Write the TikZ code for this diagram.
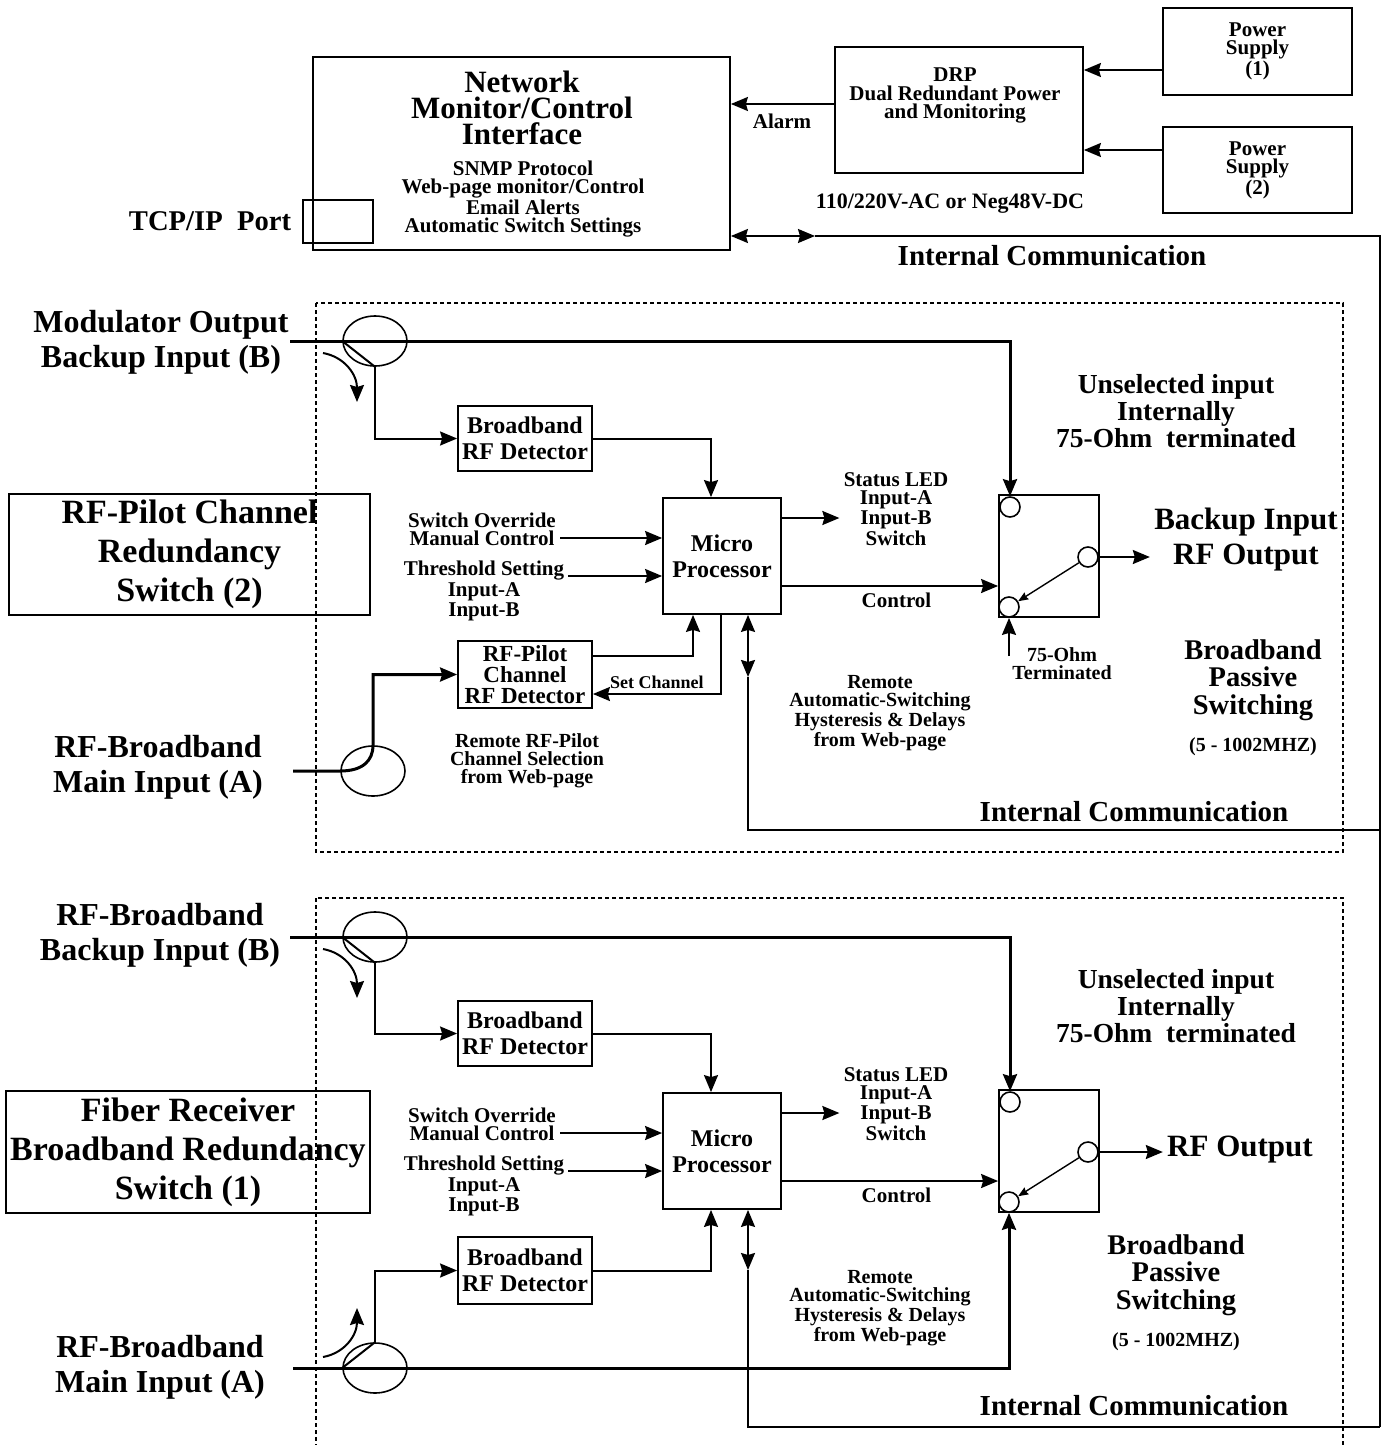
\documentclass[tikz,border=0pt]{standalone}
\usepackage{fontspec}
\setmainfont{Liberation Serif}
\usepackage{tikz}
\usetikzlibrary{calc,arrows.meta,shapes.geometric,positioning}

\begin{document}
\begin{tikzpicture}[x=0.5pt,y=-0.5pt,
	>={Stealth[length=8.5pt,width=7pt,inset=1pt]},
	every node/.style={align=center,inner sep=2pt},
	blk/.style={draw,line width=0.9pt},
	lbl/.style={font=\bfseries\fontsize{10.5}{9}\selectfont},
	lbls/.style={font=\bfseries\fontsize{10}{9}\selectfont},
	boxtxt/.style={font=\bfseries\fontsize{12}{13}\selectfont},
	pilottxt/.style={font=\bfseries\fontsize{11.5}{10.5}\selectfont},
	inlbl/.style={font=\bfseries\fontsize{16}{17.5}\selectfont},
	lboxtxt/.style={font=\bfseries\fontsize{17}{19.5}\selectfont},
	midtxt/.style={font=\bfseries\fontsize{13.75}{13.5}\selectfont},
	commtxt/.style={font=\bfseries\fontsize{14.5}{14}\selectfont},
	sig/.style={line width=1pt},
	rf/.style={line width=1.5pt},
	dotbox/.style={line width=0.6pt,dash pattern=on 2pt off 1.5pt},
	cpl/.style={ellipse,draw,line width=0.8pt,minimum width=32pt,minimum height=25pt,inner sep=0pt},
	contact/.style={circle,draw,line width=0.8pt,minimum size=10pt,inner sep=0pt},
	arm/.style={line width=0.7pt,-{Stealth[length=5pt,width=4pt,inset=0.5pt]}}]
	
	\useasboundingbox (0,0) rectangle (1382,1445);
	\clip (0,0) rectangle (1382,1445);
	
	% network monitor and power supplies
	\node[blk,minimum width=208.5pt,minimum height=96.5pt] (net) at (521.5,153.5) {};
	\node[font=\bfseries\fontsize{15.5}{13}\selectfont] (nettitle) at (522,108) {Network\\Monitor/Control\\Interface};
	\node[lbl] (netlist) at (523,199) {SNMP Protocol\\Web-page monitor/Control\\Email Alerts\\Automatic Switch Settings};
	\node[blk,minimum width=35pt,minimum height=21.5pt] (port) at (338,221.5) {};
	\node[font=\bfseries\fontsize{14.3}{14}\selectfont] (portlbl) at (210,221) {TCP/IP\ \ Port};
	
	\node[blk,minimum width=124pt,minimum height=63pt] (drp) at (959,110) {};
	\node[font=\bfseries\fontsize{10.5}{9.25}\selectfont] (drptxt) at (955,95.5) {DRP\\Dual Redundant Power\\and Monitoring};
	\node[blk,lbl,minimum width=94.5pt,minimum height=43.5pt] (ps1) at (1257.5,51.5) {Power\\Supply\\(1)};
	\node[blk,lbl,minimum width=94.5pt,minimum height=43pt] (ps2) at (1257.5,170) {Power\\Supply\\(2)};
	\draw[sig,->] (ps1.west |- 0,70) -- (drp.east |- 0,70);
	\draw[sig,->] (ps2.west |- 0,150) -- (drp.east |- 0,150);
	\draw[sig,->] (drp.west |- 0,104) -- (net.east |- 0,104);
	\node[lbl] (alarm) at (782,121) {Alarm};
	\node[font=\bfseries\fontsize{11}{10}\selectfont] (volt) at (950,204) {110/220V-AC or Neg48V-DC};
	
	\coordinate (busTap) at (815,236);
	\coordinate (busTop) at (1380,236);
	\coordinate (busEnd) at (1380,1427);
	\draw[sig,<->] (net.east |- busTap) -- (busTap);
	\draw[sig] (busTap) -- (busTop) -- (busEnd);
	\node[commtxt] (comm0) at (1052,256) {Internal Communication};
	
	% switch (2)
	\draw[dotbox] (316,303) rectangle (1343,852);
	\node[inlbl] (labB2) at (161,342) {Modulator Output\\Backup Input (B)};
	\node[inlbl] (labA2) at (158,767) {RF-Broadband\\Main Input (A)};
	\node[blk,lboxtxt,minimum width=180.5pt,minimum height=60.5pt] (sw2lbl) at (189.5,554.5) {RF-Pilot Channel\\Redundancy\\Switch (2)};
	
	\node[cpl] (cplB2) at (375,341) {};
	\node[cpl] (cplA2) at (373,771) {};
	\coordinate (inB2) at (290,341);
	\coordinate (inA2) at (293,771);
	
	\node[blk,boxtxt,minimum width=67pt,minimum height=32.5pt] (detB2) at (525,438.5) {Broadband\\RF Detector};
	\node[blk,pilottxt,minimum width=67pt,minimum height=33.5pt] (pil2) at (525,674.5) {RF-Pilot\\Channel\\RF Detector};
	\node[blk,boxtxt,minimum width=59pt,minimum height=58pt] (mp2) at (722,556) {Micro\\Processor};
	\node[blk,minimum width=50pt,minimum height=61pt] (sw2) at (1049,556) {};
	\node[contact] (ctT2) at (1010,507) {};
	\node[contact] (ctR2) at (1088,557) {};
	\node[contact] (ctL2) at (1009,607) {};
	
	\node[lbl] (ovr2) at (482,529) {Switch Override\\Manual Control};
	\node[lbl] (thr2) at (484,591) {Threshold Setting\\Input-A\\Input-B};
	\node[lbl] (led2) at (896,509) {Status LED\\Input-A\\Input-B\\Switch};
	\node[midtxt] (uns2) at (1176,411) {Unselected input\\Internally\\75-Ohm\ \ terminated};
	\node[font=\bfseries\fontsize{15.5}{17.5}\selectfont] (out2) at (1246,540) {Backup Input\\RF Output};
	\node[lbls] (term2) at (1062,664) {75-Ohm\\Terminated};
	\node[font=\bfseries\fontsize{14.25}{13.75}\selectfont] (pas2) at (1253,680) {Broadband\\Passive\\Switching};
	\node[lbls] (mhz2) at (1253,747) {(5 - 1002MHZ)};
	\node[lbls] (rem2) at (880,713) {Remote\\Automatic-Switching\\Hysteresis \& Delays\\from Web-page};
	\node[lbls] (pilrem2) at (527,761) {Remote RF-Pilot\\Channel Selection\\from Web-page};
	\node[commtxt] (comm2) at (1134,812) {Internal Communication};
	
	\draw[rf,->] (inB2) -| (ctT2.north);
	\draw[sig] (cplB2.west) -- (cplB2.south);
	\draw[sig,->] (cplB2.south) |- (detB2.west);
	\draw[sig,->] (323,353) .. controls (345,357) and (357,375) .. (357,402);
	\draw[rf,->] (inA2) -- (cplA2.west) .. controls ($(cplA2.west)+(22,0)$) and ($(cplA2.north)+(0,16)$) .. (cplA2.north) |- (pil2.west);
	
	\draw[sig,->] (detB2.east) -| ($(mp2.north)+(-11,0)$);
	\draw[sig,->] (ovr2.east |- 0,538) -- (mp2.west |- 0,538);
	\draw[sig,->] (thr2.east |- 0,576) -- (mp2.west |- 0,576);
	\draw[sig,->] (mp2.east |- 0,518) -- (led2.west |- 0,518);
	\draw[sig,->] (mp2.east |- 0,586) -- node[lbl,below=1pt,pos=0.53] (ctl2) {Control} (sw2.west |- 0,586);
	\draw[sig,->] (pil2.east |- 0,656) -| ($(mp2.south)+(-29,0)$);
	\draw[sig,->] ($(mp2.south)+(-1,0)$) |- node[font=\bfseries\fontsize{9}{9}\selectfont,above=0pt,pos=0.75] (setch2) {Set Channel} (pil2.east |- 0,694);
	\draw[arm] (ctR2) -- (ctL2);
	\draw[sig,->] (ctR2.east) -- (out2.west |- ctR2);
	\draw[sig,->] (ctL2 |- 0,656) -- (ctL2 |- sw2.south);
	
	\coordinate (bus2) at (1380,830);
	\coordinate (tap2) at (748,677);
	\draw[sig] (bus2) -| (tap2);
	\draw[sig,<->] (tap2) -- (tap2 |- mp2.south);
	
	% switch (1)
	\draw[dotbox] (316,898) rectangle (1343,1470);
	\node[inlbl] (labB1) at (160,935) {RF-Broadband\\Backup Input (B)};
	\node[inlbl] (labA1) at (160,1367) {RF-Broadband\\Main Input (A)};
	\node[blk,lboxtxt,minimum width=181pt,minimum height=61pt] (sw1lbl) at (188,1152) {Fiber Receiver\\Broadband Redundancy\\Switch (1)};
	
	\node[cpl] (cplB1) at (375,937) {};
	\node[cpl] (cplA1) at (375,1368) {};
	\coordinate (inB1) at (290,937);
	\coordinate (inA1) at (293,1368);
	
	\node[blk,boxtxt,minimum width=67pt,minimum height=32.5pt] (detB1) at (525,1033.5) {Broadband\\RF Detector};
	\node[blk,boxtxt,minimum width=67pt,minimum height=33.5pt] (detA1) at (525,1270.5) {Broadband\\RF Detector};
	\node[blk,boxtxt,minimum width=59pt,minimum height=58pt] (mp1) at (722,1151) {Micro\\Processor};
	\node[blk,minimum width=50pt,minimum height=61pt] (sw1) at (1049,1151) {};
	\node[contact] (ctT1) at (1010,1102) {};
	\node[contact] (ctR1) at (1088,1152) {};
	\node[contact] (ctL1) at (1009,1202) {};
	
	\node[lbl] (ovr1) at (482,1124) {Switch Override\\Manual Control};
	\node[lbl] (thr1) at (484,1186) {Threshold Setting\\Input-A\\Input-B};
	\node[lbl] (led1) at (896,1104) {Status LED\\Input-A\\Input-B\\Switch};
	\node[midtxt] (uns1) at (1176,1006) {Unselected input\\Internally\\75-Ohm\ \ terminated};
	\node[font=\bfseries\fontsize{15.5}{17.5}\selectfont] (out1) at (1240,1150) {RF Output};
	\node[font=\bfseries\fontsize{14.25}{13.75}\selectfont] (pas1) at (1176,1275) {Broadband\\Passive\\Switching};
	\node[lbls] (mhz1) at (1176,1342) {(5 - 1002MHZ)};
	\node[lbls] (rem1) at (880,1308) {Remote\\Automatic-Switching\\Hysteresis \& Delays\\from Web-page};
	\node[commtxt] (comm1) at (1134,1406) {Internal Communication};
	
	\draw[rf,->] (inB1) -| (ctT1.north);
	\draw[sig] (cplB1.west) -- (cplB1.south);
	\draw[sig,->] (cplB1.south) |- (detB1.west);
	\draw[sig,->] (323,949) .. controls (345,953) and (357,971) .. (357,998);
	\draw[rf,->] (inA1) -| (ctL1.south);
	\draw[sig] (cplA1.west) -- (cplA1.north);
	\draw[sig,->] (cplA1.north) |- (detA1.west);
	\draw[sig,->] (323,1357) .. controls (345,1353) and (357,1335) .. (357,1308);
	
	\draw[sig,->] (detB1.east) -| ($(mp1.north)+(-11,0)$);
	\draw[sig,->] (detA1.east) -| ($(mp1.south)+(-11,0)$);
	\draw[sig,->] (ovr1.east |- 0,1133) -- (mp1.west |- 0,1133);
	\draw[sig,->] (thr1.east |- 0,1171) -- (mp1.west |- 0,1171);
	\draw[sig,->] (mp1.east |- 0,1113) -- (led1.west |- 0,1113);
	\draw[sig,->] (mp1.east |- 0,1181) -- node[lbl,below=1pt,pos=0.53] (ctl1) {Control} (sw1.west |- 0,1181);
	\draw[arm] (ctR1) -- (ctL1);
	\draw[sig,->] (ctR1.east) -- (out1.west |- ctR1);
	
	\coordinate (tap1) at (748,1270);
	\draw[sig] (busEnd) -| (tap1);
	\draw[sig,<->] (tap1) -- (tap1 |- mp1.south);
\end{tikzpicture}
\end{document}
